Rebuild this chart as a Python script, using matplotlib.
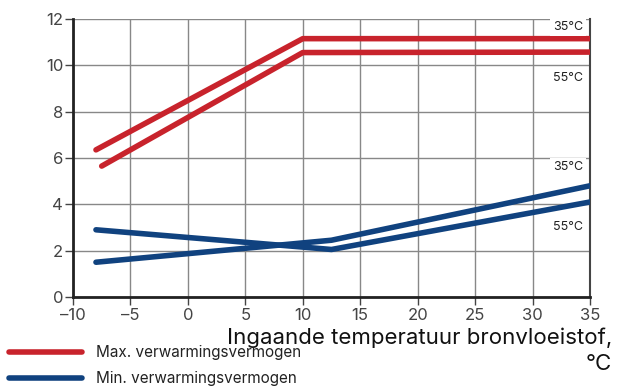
import matplotlib
matplotlib.use('Agg')
import matplotlib.pyplot as plt

# data
max_35_x = [-8, 10, 35]
max_35_y = [6.35, 11.15, 11.15]
max_55_x = [-7.5, 10, 35]
max_55_y = [5.65, 10.55, 10.57]
min_35_x = [-8, 12.5, 35]
min_35_y = [1.5, 2.45, 4.8]
min_55_x = [-8, 12.5, 35]
min_55_y = [2.9, 2.05, 4.1]

xticks = [-10, -5, 0, 5, 10, 15, 20, 25, 30, 35]
yticks = [0, 2, 4, 6, 8, 10, 12]

red = '#c8232c'
blue = '#10427f'

plt.rcParams['font.family'] = ['Inter', 'DejaVu Sans']

fig = plt.figure(figsize=(6.17, 3.87), dpi=100)
ax = fig.add_axes([0.1183, 0.2326, 0.8379, 0.7184])

for x, y in [(max_35_x, max_35_y), (max_55_x, max_55_y)]:
    ax.plot(x, y, color=red, lw=4, solid_capstyle='round', zorder=3)
for x, y in [(min_35_x, min_35_y), (min_55_x, min_55_y)]:
    ax.plot(x, y, color=blue, lw=4, solid_capstyle='round', zorder=3)

ax.set_xlim(-10, 35)
ax.set_ylim(0, 12)
ax.set_xticks(xticks)
ax.set_yticks(yticks)
ax.set_xticklabels([('\u2013' + str(-t)) if t < 0 else str(t) for t in xticks])
ax.grid(True, color='#888888', lw=1, zorder=0)
ax.tick_params(axis='both', labelsize=12, colors='#444444', length=6, width=1, pad=1)
ax.tick_params(axis='x', pad=2)

ax.spines['top'].set_visible(False)
ax.spines['left'].set_linewidth(2)
ax.spines['bottom'].set_linewidth(2)
ax.spines['left'].set_color('#222222')
ax.spines['bottom'].set_color('#222222')
ax.spines['right'].set_linewidth(1.5)
ax.spines['right'].set_color('#444444')

box = dict(facecolor='white', edgecolor='none', pad=2)
for yv, txt in [(11.65, '35°C'), (9.45, '55°C'), (5.61, '35°C'), (3.02, '55°C')]:
    ax.text(33.1, yv, txt, fontsize=9, ha='center', va='center',
            color='#222222', bbox=box, zorder=4)

fig.text(0.992, (387 - 344) / 387, 'Ingaande temperatuur bronvloeistof,', ha='right',
         va='baseline', fontsize=16, color='#111111')
fig.text(0.992, (387 - 370) / 387, '°C', ha='right',
         va='baseline', fontsize=16, color='#111111')

fig.add_artist(plt.Line2D([0.015, 0.133], [(387 - 352) / 387] * 2, color=red, lw=4,
                          solid_capstyle='round'))
fig.add_artist(plt.Line2D([0.015, 0.133], [(387 - 378) / 387] * 2, color=blue, lw=4,
                          solid_capstyle='round'))
fig.text(0.156, (387 - 357) / 387, 'Max. verwarmingsvermogen', fontsize=11,
         va='baseline', color='#222222')
fig.text(0.156, (387 - 383) / 387, 'Min. verwarmingsvermogen', fontsize=11,
         va='baseline', color='#222222')

fig.savefig('out.png', dpi=100)
